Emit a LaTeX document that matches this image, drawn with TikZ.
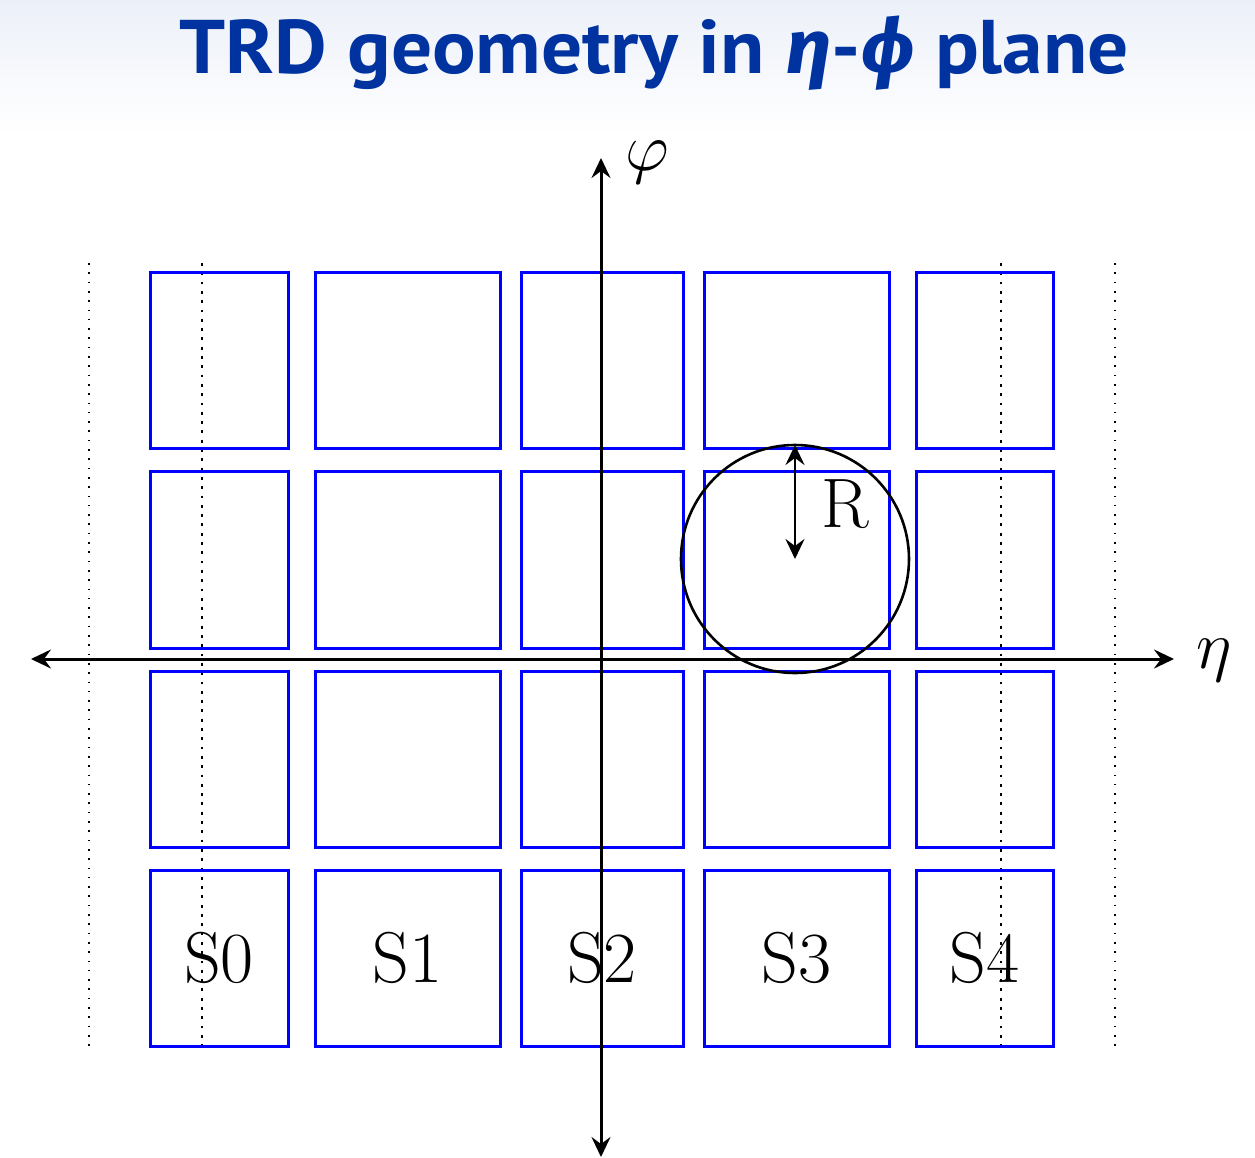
\RequirePackage{fix-cm}
\documentclass[tikz,border=0pt]{standalone}
\usepackage{fontspec}
\usetikzlibrary{arrows.meta}
\newfontfamily\titlefont{PT Sans}
\newfontfamily\greekfont{Fira Sans}
\definecolor{titleblue}{RGB}{0,51,160}
\definecolor{topgray}{RGB}{236,240,248}
\newcommand\cellbox[6]{% name, x1, y1, x2, y2, text
  \node[cellstyle, minimum width={(#4-#2)*0.5pt}, minimum height={(#5-#3)*0.5pt}]
    (#1) at ({(#2+#4)/2},{(#3+#5)/2}) {#6};}
\begin{document}
\begin{tikzpicture}[x=0.5pt,y=-0.5pt,
  cellstyle/.style={draw=blue, line width=1.5pt, inner sep=0pt, font=\fontsize{36}{40}\selectfont},
  axisline/.style={line width=1.5pt, {Stealth[length=10pt,width=9.5pt,inset=3.5pt]}-{Stealth[length=10pt,width=9.5pt,inset=3.5pt]}},
  thindot/.style={line width=0.7pt, dash pattern=on 0.8pt off 3.85pt},
  thickdot/.style={line width=1.4pt, dash pattern=on 1.4pt off 3.25pt},
  mathlabel/.style={font=\fontsize{34}{40}\selectfont, inner sep=0pt}]
\useasboundingbox (0,0) rectangle (1255,1158);
\shade[top color=topgray, bottom color=white] (0,0) rectangle (1255,135);
\node[anchor=base, text=titleblue, inner sep=0pt, xscale=1.07,
      font=\titlefont\bfseries\fontsize{38}{40}\selectfont] (title) at (654,73)
  {TRD geometry in {\greekfont\bfseries\itshape η}-{\greekfont\bfseries\itshape ϕ} plane};
% dotted lines
\coordinate (d1t) at (89,263);  \coordinate (d1b) at (89,1053);
\coordinate (d2t) at (202,263); \coordinate (d2b) at (202,1053);
\coordinate (d3t) at (1001,263);\coordinate (d3b) at (1001,1053);
\coordinate (d4t) at (1115,263);\coordinate (d4b) at (1115,1053);
\draw[thindot] (d1t) -- (d1b);
\draw[thickdot] (d2t) -- (d2b);
\draw[thickdot] (d3t) -- (d3b);
\draw[thindot] (d4t) -- (d4b);
% cells
\foreach \r/\ya/\yb in {1/272/448, 2/471/648, 3/671/847}{
  \cellbox{a\r}{150}{\ya}{288}{\yb}{}
  \cellbox{b\r}{315}{\ya}{500}{\yb}{}
  \cellbox{c\r}{521}{\ya}{683}{\yb}{}
  \cellbox{d\r}{704}{\ya}{889}{\yb}{}
  \cellbox{e\r}{916}{\ya}{1053}{\yb}{}
}
\cellbox{a4}{150}{870}{288}{1046}{S0}
\cellbox{b4}{315}{870}{500}{1046}{S1}
\cellbox{c4}{521}{870}{683}{1046}{S2}
\cellbox{d4}{704}{870}{889}{1046}{S3}
\cellbox{e4}{916}{870}{1053}{1046}{S4}
% axes
\coordinate (xl) at (31,659); \coordinate (xr) at (1174,659);
\coordinate (yt) at (601,158); \coordinate (yb) at (601,1157);
\draw[axisline] (xl) -- (xr);
\draw[axisline] (yb) -- (yt);
\node[mathlabel] (eta) at (1214,660) {$\eta$};
\node[mathlabel] (phi) at (647,162) {$\varphi$};
% circle
\coordinate (cc) at (795,559);
\draw[line width=1.3pt] (cc) circle[radius=114];
\coordinate (ctop) at (795,445);
\draw[axisline, line width=1.3pt] (cc) -- (ctop);
\node[font=\fontsize{35}{40}\selectfont, inner sep=0pt] (rlab) at (845,504) {R};
\end{tikzpicture}
\end{document}
